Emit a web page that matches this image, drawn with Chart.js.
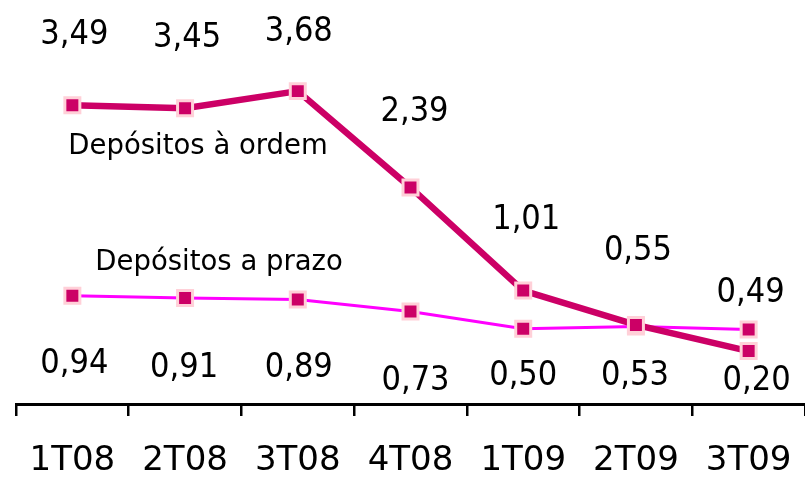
<!DOCTYPE html>
<html>
<head>
<meta charset="utf-8">
<script src="https://cdn.jsdelivr.net/npm/chart.js@4/dist/chart.umd.min.js"></script>
<style>
html,body{margin:0;padding:0;background:#fff;}
#wrap{width:805px;height:479px;position:relative;}
</style>
</head>
<body>
<div id="wrap"><canvas id="c" width="805" height="479"></canvas></div>
<script>
// ---- data ----
const categories = ["1T08", "2T08", "3T08", "4T08", "1T09", "2T09", "3T09"];
const seriesNames = ["Depósitos à ordem", "Depósitos a prazo"];
const depositosOrdem = [3.49, 3.45, 3.68, 2.39, 1.01, 0.55, 0.20];
const depositosPrazo = [0.94, 0.91, 0.89, 0.73, 0.50, 0.53, 0.49];

// ---- label placement (pixel offsets from each point, styling only) ----
const ordemLabelOffset = [[2,-61],[2,-61],[1,-50],[4,-66],[3,-62],[2,-65],[8,39]];
const prazoLabelOffset = [[2,77],[-1,79],[1,77],[5,79],[0,56],[-1,59],[2,-27]];
const seriesLabelOffset = [[-4,49],[23,-26]];

const fmt = v => v.toFixed(2).replace('.', ',');

const labelPlugin = {
  id: 'labels',
  afterDatasetsDraw(chart) {
    const ctx = chart.ctx;
    ctx.save();
    ctx.fillStyle = '#000';
    ctx.textBaseline = 'alphabetic';
    const offs = [ordemLabelOffset, prazoLabelOffset];
    chart.data.datasets.forEach((ds, di) => {
      const meta = chart.getDatasetMeta(di);
      ctx.font = '34px "DejaVu Sans Condensed", "DejaVu Sans", sans-serif';
      ctx.textAlign = 'center';
      meta.data.forEach((pt, i) => {
        const o = offs[di][i];
        ctx.fillText(fmt(ds.data[i]), pt.x + o[0], pt.y + o[1]);
      });
      const p0 = meta.data[0];
      const so = seriesLabelOffset[di];
      ctx.font = '27.5px "DejaVu Sans", sans-serif';
      ctx.textAlign = 'left';
      ctx.fillText(seriesNames[di], p0.x + so[0], p0.y + so[1]);
    });
    ctx.restore();
  }
};

const pointStyleCommon = {
  pointStyle: 'rect',
  pointRadius: 10.6,
  pointHoverRadius: 10.6,
  pointBorderWidth: 3,
  pointBorderColor: '#ffd0d8',
  pointBackgroundColor: '#cc0066',
  tension: 0,
  fill: false,
  clip: false
};

new Chart(document.getElementById('c'), {
  type: 'line',
  data: {
    labels: categories,
    datasets: [
      Object.assign({
        label: seriesNames[0],
        data: depositosOrdem,
        borderColor: '#cc0066',
        borderWidth: 6.5,
        order: 1
      }, pointStyleCommon),
      Object.assign({
        label: seriesNames[1],
        data: depositosPrazo,
        borderColor: '#ff00ff',
        borderWidth: 3,
        order: 2
      }, pointStyleCommon)
    ]
  },
  options: {
    responsive: false,
    animation: false,
    devicePixelRatio: 1,
    layout: { autoPadding: false, padding: { left: 16, right: 0, top: 0, bottom: 0 } },
    plugins: { legend: { display: false }, tooltip: { enabled: false } },
    scales: {
      y: { display: false, min: -0.509, max: 4.90 },
      x: {
        offset: true,
        grid: {
          offset: true,
          drawOnChartArea: false,
          drawTicks: true,
          tickLength: 12,
          color: '#000',
          lineWidth: 2.5
        },
        border: { display: true, color: '#000', width: 3 },
        ticks: {
          color: '#000',
          font: { family: '"DejaVu Sans", sans-serif', size: 34 },
          padding: 25,
          maxRotation: 0,
          autoSkip: false
        },
        afterFit(scale) {
          scale.height = 75;
          scale.paddingLeft = 0;
          scale.paddingRight = 0;
        }
      }
    }
  },
  plugins: [labelPlugin]
});
</script>
</body>
</html>
